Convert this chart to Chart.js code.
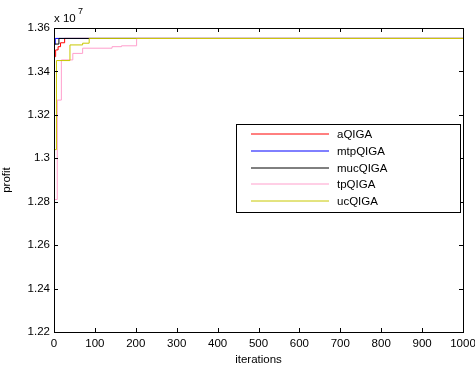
<!DOCTYPE html>
<html>
<head>
<meta charset="utf-8">
<script src="https://cdn.jsdelivr.net/npm/chart.js@4/dist/chart.umd.min.js"></script>
<style>
  html, body { margin: 0; padding: 0; background: #fff; }
  canvas { display: block; }
</style>
</head>
<body>
<canvas id="chartcanvas" width="475" height="367"></canvas>
<script>
// best profit found so far, sampled where it changes (iteration -> profit)
var aqigaIter = [0, 4, 10, 16, 26, 1000];
var aqigaProfit = [13468000, 13499000, 13514000, 13532000, 13552000, 13552000];

var mtpqigaIter = [0, 1, 3, 1000];
var mtpqigaProfit = [13200000, 13525000, 13552000, 13552000];

var mucqigaIter = [0, 1, 12, 1000];
var mucqigaProfit = [12720000, 13526000, 13552000, 13552000];

var tpqigaIter = [0, 8, 18, 46, 70, 142, 165, 202, 1000];
var tpqigaProfit = [12810000, 13268000, 13453000, 13483000, 13507000, 13514000, 13518000, 13552000, 13552000];

var ucqigaIter = [0, 1, 6, 39, 70, 86, 1000];
var ucqigaProfit = [12200000, 13040000, 13450000, 13522000, 13530000, 13552000, 13552000];

var seriesNames = ["aQIGA", "mtpQIGA", "mucQIGA", "tpQIGA", "ucQIGA"];
var seriesColors = ["#ff0000", "#0000ff", "#000000", "#ff9fcc", "#c8c800"];

var xTicks = [0, 100, 200, 300, 400, 500, 600, 700, 800, 900, 1000];
var yTicks = [12200000, 12400000, 12600000, 12800000, 13000000, 13200000, 13400000, 13600000];

var FONT = "'Liberation Sans', Arial, Helvetica, sans-serif";
var FSIZE = 11.5;

function toPoints(iters, vals) {
    var pts = [];
    for (var i = 0; i < iters.length; i++) {
        pts.push({x: iters[i], y: vals[i]});
    }
    return pts;
}

var allIters = [aqigaIter, mtpqigaIter, mucqigaIter, tpqigaIter, ucqigaIter];
var allProfits = [aqigaProfit, mtpqigaProfit, mucqigaProfit, tpqigaProfit, ucqigaProfit];

var datasets = [];
for (var i = 0; i < seriesNames.length; i++) {
    datasets.push({
        label: seriesNames[i],
        data: toPoints(allIters[i], allProfits[i]),
        borderColor: seriesColors[i],
        backgroundColor: seriesColors[i],
        borderWidth: 1,
        pointRadius: 0,
        stepped: "before",   // hold the old value, jump at the new iteration
        fill: false,
        order: seriesNames.length - i   // later series drawn on top, like matlab
    });
}

// axes box, inward ticks, exponent label and the legend box
var matlabAxes = {
    id: "matlabAxes",
    afterDraw: function(chart) {
        var c = chart.ctx;
        var a = chart.chartArea;
        var xs = chart.scales.x, ys = chart.scales.y;
        c.save();
        c.strokeStyle = "#000";
        c.lineWidth = 1;
        c.strokeRect(Math.round(a.left) + 0.5, Math.round(a.top) + 0.5,
                     Math.round(a.right - a.left), Math.round(a.bottom - a.top));

        var tl = 4;
        c.beginPath();
        xTicks.forEach(function(t) {
            var px = Math.round(xs.getPixelForValue(t)) + 0.5;
            c.moveTo(px, a.bottom); c.lineTo(px, a.bottom - tl);
            c.moveTo(px, a.top); c.lineTo(px, a.top + tl);
        });
        yTicks.forEach(function(t) {
            var py = Math.round(ys.getPixelForValue(t)) + 0.5;
            c.moveTo(a.left, py); c.lineTo(a.left + tl, py);
            c.moveTo(a.right, py); c.lineTo(a.right - tl, py);
        });
        c.stroke();

        // "x 10^7"
        c.fillStyle = "#000";
        c.font = FSIZE + "px " + FONT;
        c.textBaseline = "alphabetic";
        c.textAlign = "left";
        c.fillText("x 10", a.left, a.top - 6);
        c.font = "9px " + FONT;
        c.fillText("7", a.left + 24, a.top - 14);

        // legend
        var lx = 236, ly = 124, lw = 224, lh = 88;
        c.fillStyle = "#fff";
        c.fillRect(lx, ly, lw, lh);
        c.strokeStyle = "#000";
        c.strokeRect(lx + 0.5, ly + 0.5, lw, lh);
        c.font = FSIZE + "px " + FONT;
        c.textBaseline = "middle";
        chart.data.datasets.forEach(function(ds, k) {
            var ry = Math.round(ly + 10 + k * 16.8);
            c.strokeStyle = seriesColors[k];
            c.beginPath();
            c.moveTo(251, ry); c.lineTo(329, ry);
            c.stroke();
            c.fillStyle = "#000";
            c.fillText(seriesNames[k], 337, ry + 0.5);
        });
        c.restore();
    }
};

var ctx = document.getElementById("chartcanvas");
var chart = new Chart(ctx, {
    type: "line",
    data: { datasets: datasets },
    options: {
        responsive: false,
        animation: false,
        devicePixelRatio: 1,
        layout: { padding: { left: 0, right: 12, top: 28, bottom: 0 } },
        plugins: {
            legend: { display: false },
            tooltip: { enabled: false }
        },
        scales: {
            x: {
                type: "linear",
                min: 0,
                max: 1000,
                afterBuildTicks: function(s) { s.ticks = xTicks.map(function(v) { return {value: v}; }); },
                afterFit: function(s) { s.height = 35; s.paddingRight = 0; s.paddingLeft = 0; },
                grid: { display: false, drawTicks: false },
                border: { display: false },
                ticks: {
                    color: "#000", font: { family: FONT, size: FSIZE }, padding: 5,
                    maxRotation: 0, autoSkip: false,
                    callback: function(v) { return String(v); }
                },
                title: { display: true, text: "iterations", color: "#000", font: { family: FONT, size: FSIZE }, padding: { top: 0, bottom: 0 } }
            },
            y: {
                type: "linear",
                min: 12200000,
                max: 13600000,
                afterBuildTicks: function(s) { s.ticks = yTicks.map(function(v) { return {value: v}; }); },
                afterFit: function(s) { s.width = 54; s.paddingTop = 0; s.paddingBottom = 0; },
                grid: { display: false, drawTicks: false },
                border: { display: false },
                ticks: {
                    color: "#000",
                    font: { family: FONT, size: FSIZE },
                    padding: 4,
                    autoSkip: false,
                    callback: function(v) { return String(Math.round(v / 1000) / 10000); }
                },
                title: { display: true, text: "profit", color: "#000", font: { family: FONT, size: FSIZE }, padding: { top: 0, bottom: 4 } }
            }
        }
    },
    plugins: [matlabAxes]
});
</script>
</body>
</html>
